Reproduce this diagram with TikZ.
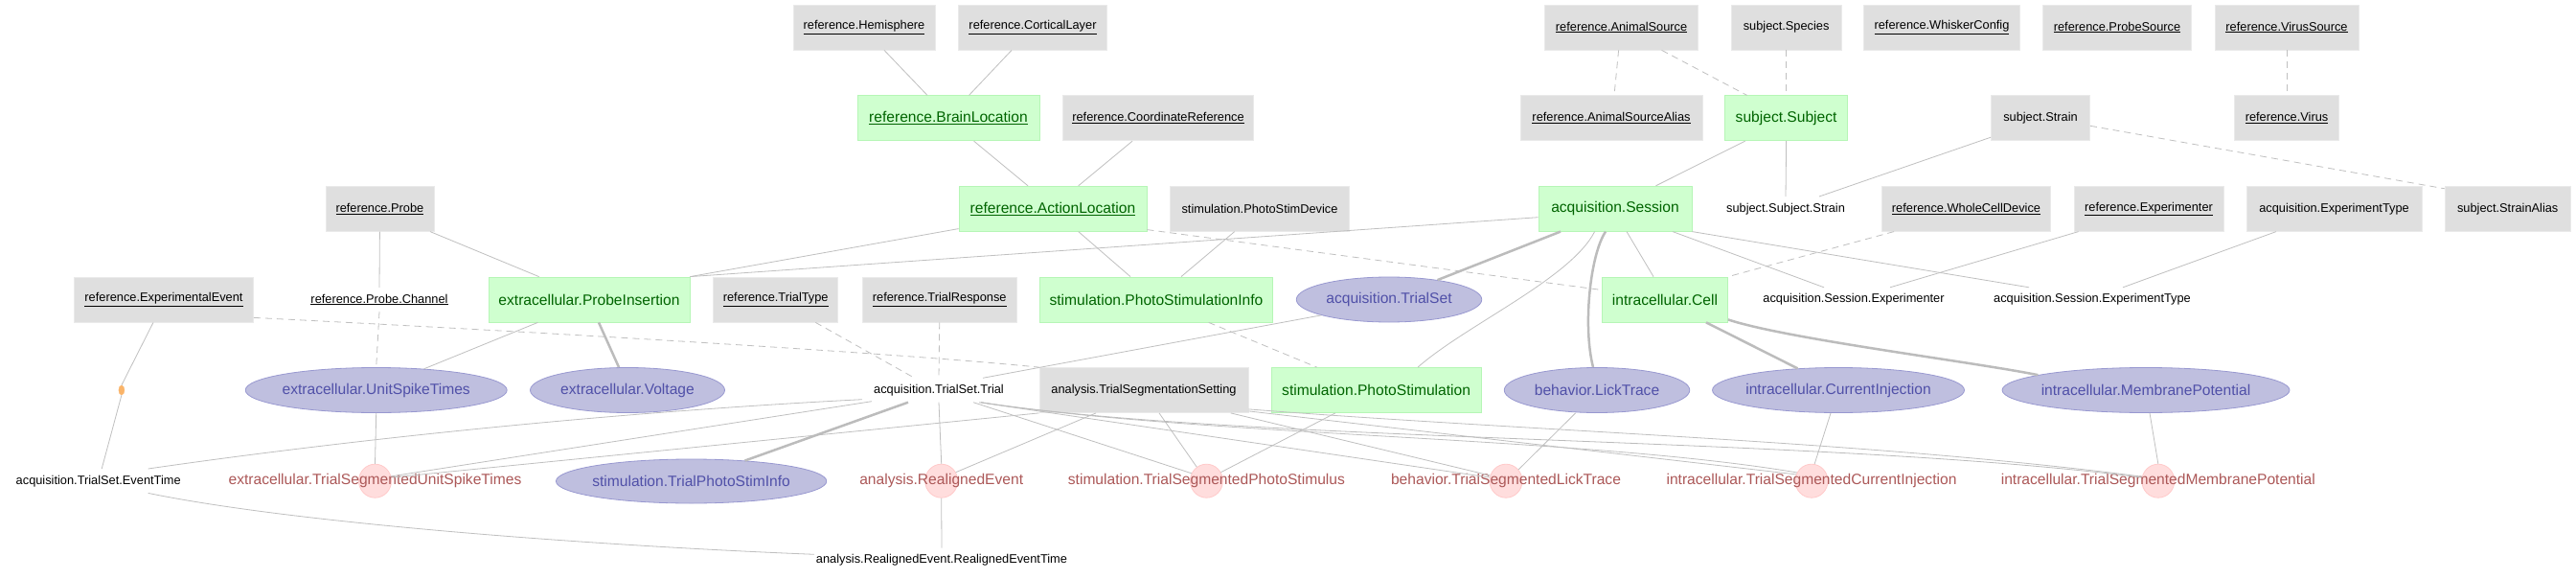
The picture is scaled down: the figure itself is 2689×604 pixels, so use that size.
\documentclass[tikz,border=0pt]{standalone}
\usepackage{fontspec}
\setmainfont{Liberation Sans}
\usetikzlibrary{shapes.geometric}
\definecolor{lkfill}{RGB}{223,223,223}
\definecolor{lkdraw}{RGB}{234,234,234}
\definecolor{mnfill}{RGB}{207,255,207}
\definecolor{mndraw}{RGB}{182,246,182}
\definecolor{mntext}{RGB}{0,100,0}
\definecolor{imfill}{RGB}{191,191,223}
\definecolor{imdraw}{RGB}{152,152,208}
\definecolor{imtext}{RGB}{80,80,168}
\definecolor{cpfill}{RGB}{255,221,221}
\definecolor{cpdraw}{RGB}{255,202,202}
\definecolor{cptext}{RGB}{172,88,88}
\definecolor{edgec}{RGB}{192,192,192}
\definecolor{thickc}{RGB}{188,188,188}
\definecolor{dotc}{RGB}{250,180,105}
\newcommand{\smfont}{\fontsize{12.8}{15}\selectfont}
\newcommand{\lgfont}{\fontsize{15.6}{18}\selectfont}
\tikzset{
  lookup/.style={rectangle, fill=lkfill, draw=lkdraw, line width=0.8pt, minimum height=47, inner sep=0, font=\smfont, text=black},
  manual/.style={rectangle, fill=mnfill, draw=mndraw, line width=0.8pt, minimum height=47, inner sep=0, font=\lgfont, text=mntext},
  imported/.style={ellipse, fill=imfill, draw=imdraw, line width=0.8pt, minimum height=47, inner sep=0},
  imptext/.style={font=\lgfont, text=imtext},
  computed/.style={ellipse, fill=cpfill, draw=cpdraw, line width=0.8pt, minimum width=34, minimum height=35, inner sep=0},
  comptext/.style={font=\lgfont, text=cptext},
  part/.style={rectangle, minimum height=25, inner sep=2, font=\smfont, text=black},
  fk/.style={draw=edgec, line width=0.8pt},
  fkdash/.style={fk, dash pattern=on 7pt off 5pt},
  fkthick/.style={draw=thickc, line width=2.5pt}
}
\begin{document}
\begin{tikzpicture}[x=1pt, y=-1pt]
\useasboundingbox[fill=white] (0,0) rectangle (2689,604);
% row 1
\node[lookup, minimum width=148] (hemi) at (902,28.5) {\underline{reference.Hemisphere}};
\node[lookup, minimum width=155] (cort) at (1078,28.5) {\underline{reference.CorticalLayer}};
\node[lookup, minimum width=160] (asrc) at (1692.6,28.5) {\underline{reference.AnimalSource}};
\node[lookup, minimum width=115] (species) at (1864.6,28.5) {subject.Species};
\node[lookup, minimum width=163] (whisk) at (2027,28.5) {\underline{reference.WhiskerConfig}};
\node[lookup, minimum width=155] (psrc) at (2210,28.5) {\underline{reference.ProbeSource}};
\node[lookup, minimum width=150] (vsrc) at (2387,28.5) {\underline{reference.VirusSource}};
% row 2
\node[manual, minimum width=190] (brain) at (990,123.3) {\underline{reference.BrainLocation}};
\node[lookup, minimum width=199] (coord) at (1209,123.3) {\underline{reference.CoordinateReference}};
\node[lookup, minimum width=190] (asalias) at (1682,123.3) {\underline{reference.AnimalSourceAlias}};
\node[manual, minimum width=127.5] (subj) at (1864.6,123.3) {subject.Subject};
\node[lookup, minimum width=103] (strain) at (2130,123.3) {subject.Strain};
\node[lookup, minimum width=109] (virus) at (2387,123.3) {\underline{reference.Virus}};
% row 3
\node[lookup, minimum width=113] (probe) at (396.4,217.7) {\underline{reference.Probe}};
\node[manual, minimum width=196] (action) at (1099,217.7) {\underline{reference.ActionLocation}};
\node[lookup, minimum width=187] (psdev) at (1315,217.7) {stimulation.PhotoStimDevice};
\node[manual, minimum width=160] (session) at (1686,217.7) {acquisition.Session};
\node[part] (subjstrain) at (1864,217.7) {subject.Subject.Strain};
\node[lookup, minimum width=176] (wcdev) at (2052.5,217.7) {\underline{reference.WholeCellDevice}};
\node[lookup, minimum width=156] (exper) at (2243,217.7) {\underline{reference.Experimenter}};
\node[lookup, minimum width=183] (exptype) at (2436.5,217.7) {acquisition.ExperimentType};
\node[lookup, minimum width=131] (stralias) at (2617.7,217.7) {subject.StrainAlias};
% row 4
\node[lookup, minimum width=187] (expev) at (171,312.5) {\underline{reference.ExperimentalEvent}};
\node[part] (channel) at (396,312.5) {\underline{reference.Probe.Channel}};
\node[manual, minimum width=210] (pins) at (615,312.5) {extracellular.ProbeInsertion};
\node[lookup, minimum width=130] (ttype) at (809.7,312.5) {\underline{reference.TrialType}};
\node[lookup, minimum width=161] (tresp) at (980.7,312.5) {\underline{reference.TrialResponse}};
\node[manual, minimum width=243.5] (psinfo) at (1207,312.5) {stimulation.PhotoStimulationInfo};
\node[imported, minimum width=193.5, label={[imptext]center:acquisition.TrialSet}] (trialset) at (1450,312.5) {};
\node[manual, minimum width=131] (cell) at (1738,312.5) {intracellular.Cell};
\node[part] (sexper) at (1935,312.5) {acquisition.Session.Experimenter};
\node[part] (sexptype) at (2184,312.5) {acquisition.Session.ExperimentType};
% row 5
\node[imported, minimum width=273, label={[imptext]center:extracellular.UnitSpikeTimes}] (ust) at (392.7,407) {};
\node[imported, minimum width=203, label={[imptext]center:extracellular.Voltage}] (volt) at (655,407) {};
\node[part] (trial) at (980,407) {acquisition.TrialSet.Trial};
\node[lookup, minimum width=218] (tss) at (1194,407) {analysis.TrialSegmentationSetting};
\node[manual, minimum width=219] (pstim) at (1436.6,407) {stimulation.PhotoStimulation};
\node[imported, minimum width=193.5, label={[imptext]center:behavior.LickTrace}] (lick) at (1667,407) {};
\node[imported, minimum width=263, label={[imptext]center:intracellular.CurrentInjection}] (cinj) at (1919,407) {};
\node[imported, minimum width=300, label={[imptext]center:intracellular.MembranePotential}] (mpot) at (2240,407) {};
% renamed foreign key dot
\node[ellipse, fill=dotc, draw=dotc, minimum width=6, minimum height=10, inner sep=0] (ren) at (126.9,407) {};
% row 6
\node[part] (evtime) at (102.7,501.7) {acquisition.TrialSet.EventTime};
\node[computed, label={[comptext]center:extracellular.TrialSegmentedUnitSpikeTimes}] (tsust) at (391.5,501.7) {};
\node[imported, minimum width=282.4, minimum height=46, label={[imptext]center:stimulation.TrialPhotoStimInfo}] (tpsi) at (721.6,502) {};
\node[computed, label={[comptext]center:analysis.RealignedEvent}] (realign) at (982.7,501.7) {};
\node[computed, label={[comptext]center:stimulation.TrialSegmentedPhotoStimulus}] (tsps) at (1259.4,501.7) {};
\node[computed, label={[comptext]center:behavior.TrialSegmentedLickTrace}] (tslt) at (1572,501.7) {};
\node[computed, label={[comptext]center:intracellular.TrialSegmentedCurrentInjection}] (tsci) at (1891,501.7) {};
\node[computed, label={[comptext]center:intracellular.TrialSegmentedMembranePotential}] (tsmp) at (2252.8,501.7) {};
% row 7
\node[part] (retime) at (983,584.3) {analysis.RealignedEvent.RealignedEventTime};
% edges
\draw[fk] ([xshift=21]hemi.south) -- ([xshift=-22]brain.north);
\draw[fk] ([xshift=-22]cort.south) -- ([xshift=21.5]brain.north);
\draw[fk] ([xshift=26.6]brain.south) -- ([xshift=-26]action.north);
\draw[fk] ([xshift=-27]coord.south) -- ([xshift=26.7]action.north);
\draw[fkdash] ([xshift=-3]asrc.south) -- ([xshift=3]asalias.north);
\draw[fkdash] ([xshift=42]asrc.south) -- ([xshift=-41]subj.north);
\draw[fkdash] (species.south) -- (subj.north);
\draw[fkdash] (vsrc.south) -- (virus.north);
\draw[fk] ([xshift=-43]subj.south) -- ([xshift=42.5]session.north);
\draw[fk] (subj.south) -- (subjstrain.north);
\draw[fk] ([yshift=4]strain.south west) -- ([xshift=35]subjstrain.north);
\draw[fkdash] ([yshift=-8]strain.east) -- ([yshift=-3]stralias.north west);
\draw[fk] (probe.south) -- (channel.north);
\draw[fk] ([xshift=52.6]probe.south) -- ([xshift=-52.4]pins.north);
\draw[fkdash] (channel.south) -- (ust.north);
\draw[fk] ([yshift=3]action.south west) -- (pins.north east);
\draw[fk] ([yshift=-9]session.west) -- (pins.north east);
\draw[fk] ([xshift=26.7]action.south) -- ([xshift=-27]psinfo.north);
\draw[fk] ([xshift=-26.3]psdev.south) -- ([xshift=26]psinfo.north);
\draw[fkdash] ([yshift=2]action.south east) -- ([yshift=10]cell.west);
\draw[fkthick] ([xshift=-57]session.south) -- (trialset.22);
\draw[fk] ([xshift=-21.4]session.south) .. controls +(-25,49) and +(50,-44) .. ([xshift=43.4]pstim.north);
\draw[fkthick] ([xshift=-10]session.south) .. controls +(-16,24) and +(-11,-43) .. ([xshift=-4]lick.north);
\draw[fk] ([xshift=12]session.south) -- ([xshift=-12]cell.north);
\draw[fk] ([xshift=60]session.south) -- ([xshift=-31]sexper.north);
\draw[fk] (session.south east) -- ([xshift=-66]sexptype.north);
\draw[fkdash] ([xshift=-75.5]wcdev.south) -- (cell.north east);
\draw[fk] ([xshift=-73.4]exper.south) -- ([xshift=38]sexper.north);
\draw[fk] ([xshift=-60.5]exptype.south) -- ([xshift=32]sexptype.north);
\draw[fkthick] ([xshift=43]cell.south) -- (cinj.152);
\draw[fkthick] ([yshift=3]cell.south east) .. controls +(60,20) and +(-70,-14) .. (mpot.172);
\draw[fk] ([xshift=-53.6]pins.south) -- (ust.24);
\draw[fkthick] ([xshift=10]pins.south) -- ([xshift=-9]volt.north);
\draw[fk] ([xshift=-11]expev.south) -- (ren.north);
\draw[fk] (ren.south) -- ([xshift=3.5]evtime.north);
\draw[fkdash] ([yshift=5]expev.south east) .. controls +(300,15) and +(-150,-15) .. (tss.north west);
\draw[fkdash] ([xshift=41.6]ttype.south) -- ([xshift=-25.4]trial.north);
\draw[fkdash] (tresp.south) -- (trial.north);
\draw[fk] (trialset.193) -- ([xshift=46]trial.north);
\draw[fkdash] ([xshift=54.7]psinfo.south) -- ([xshift=-62]pstim.north);
\draw[fk] (ust.south) -- (tsust.north);
\draw[fk] (trial.south) -- (realign.north);
\draw[fk] (realign.south) -- (retime.north);
\draw[fk] ([xshift=-50]tss.south) -- (realign.31);
\draw[fk] ([xshift=16]tss.south) -- (tsps.125);
\draw[fk] ([xshift=-42.8]pstim.south) -- (tsps.31);
\draw[fk] ([xshift=36]trial.south) -- (tsps.153);
\draw[fk] ([xshift=90.7]tss.south) -- (tslt.161);
\draw[fk] ([xshift=-22.4]lick.south) -- (tslt.42);
\draw[fk] ([xshift=42]trial.south) -- (tslt.168);
\draw[fk] ([yshift=2]tss.south east) -- (tsci.157);
\draw[fk] ([xshift=44]trial.south) .. controls (1250,455) and (1650,455) .. (tsci.150);
\draw[fk, draw=thickc] ([xshift=44]trial.south) .. controls (1300,462) and (1900,455) .. (tsmp.168);
\draw[fk] ([yshift=4]tss.south east) .. controls (1600,450) and (1950,460) .. (tsmp.165);
\draw[fk] ([xshift=-8]cinj.south) -- (tsci.80);
\draw[fk] ([xshift=4]mpot.south) -- (tsmp.north);
\draw[fk] ([xshift=-10,yshift=3]trial.south west) .. controls (600,432) and (320,465) .. ([xshift=52]evtime.north);
\draw[fk] ([yshift=1]trial.south west) -- (tsust.16);
\draw[fk] (tss.south west) -- (tsust.12);
\draw[fkthick] ([xshift=-32]trial.south) -- (tpsi.21);
\draw[fk] ([xshift=52]evtime.south) .. controls +(145,30) and +(-250,-10) .. ([yshift=6]retime.west);
\end{tikzpicture}
\end{document}
